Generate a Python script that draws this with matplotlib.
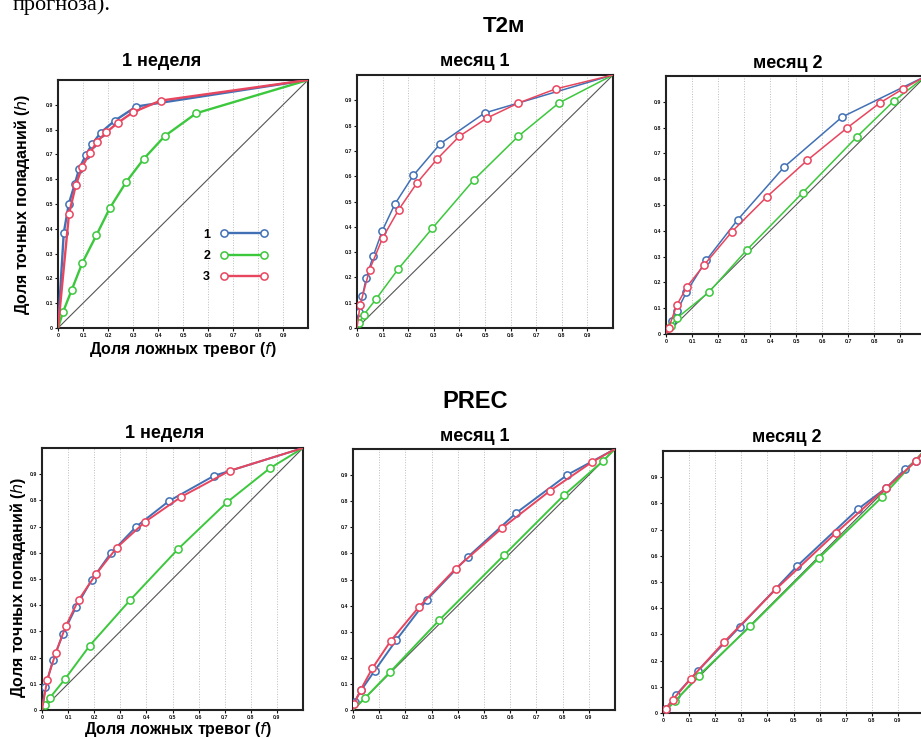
import matplotlib
matplotlib.use("Agg")
import matplotlib.pyplot as plt

plt.rcParams['font.family'] = ['Liberation Sans', 'DejaVu Sans']

# ---------------- data (f = false alarm rate, h = hit rate) ----------------
# T2m, 1 week
t2_w1_f1 = [0, 0.023, 0.043, 0.067, 0.084, 0.111, 0.137, 0.171, 0.227, 0.313, 1]
t2_w1_h1 = [0, 0.383, 0.500, 0.580, 0.640, 0.697, 0.742, 0.788, 0.836, 0.893, 1]
t2_w1_f2 = [0, 0.020, 0.055, 0.097, 0.153, 0.207, 0.273, 0.343, 0.427, 0.553, 1]
t2_w1_h2 = [0, 0.064, 0.154, 0.262, 0.373, 0.483, 0.589, 0.682, 0.774, 0.866, 1]
t2_w1_f3 = [0, 0.044, 0.071, 0.097, 0.127, 0.157, 0.193, 0.240, 0.300, 0.411, 1]
t2_w1_h3 = [0, 0.460, 0.575, 0.651, 0.705, 0.752, 0.789, 0.828, 0.870, 0.917, 1]

# T2m, month 1
t2_m1_f1 = [0, 0.008, 0.021, 0.036, 0.063, 0.099, 0.148, 0.220, 0.326, 0.499, 1]
t2_m1_h1 = [0, 0.063, 0.125, 0.198, 0.283, 0.385, 0.490, 0.603, 0.729, 0.850, 1]
t2_m1_f2 = [0, 0.008, 0.027, 0.075, 0.161, 0.294, 0.457, 0.630, 0.788, 1]
t2_m1_h2 = [0, 0.020, 0.053, 0.115, 0.233, 0.394, 0.586, 0.758, 0.889, 1]
t2_m1_f3 = [0, 0.012, 0.049, 0.100, 0.163, 0.234, 0.313, 0.400, 0.508, 0.630, 0.776, 1]
t2_m1_h3 = [0, 0.090, 0.230, 0.356, 0.468, 0.573, 0.668, 0.758, 0.830, 0.889, 0.945, 1]

# T2m, month 2
t2_m2_f1 = [0, 0.023, 0.042, 0.078, 0.154, 0.275, 0.455, 0.677, 1]
t2_m2_h1 = [0, 0.049, 0.088, 0.161, 0.285, 0.442, 0.648, 0.841, 1]
t2_m2_f2 = [0, 0.019, 0.042, 0.164, 0.311, 0.526, 0.734, 0.875, 1]
t2_m2_h2 = [0, 0.032, 0.062, 0.161, 0.326, 0.548, 0.764, 0.902, 1]
t2_m2_f3 = [0, 0.010, 0.042, 0.081, 0.147, 0.254, 0.388, 0.544, 0.698, 0.823, 0.913, 1]
t2_m2_h3 = [0, 0.023, 0.113, 0.184, 0.268, 0.397, 0.532, 0.674, 0.800, 0.896, 0.951, 1]

# PREC, 1 week
pr_w1_f1 = [0, 0.013, 0.042, 0.080, 0.130, 0.190, 0.263, 0.361, 0.487, 0.659, 1]
pr_w1_h1 = [0, 0.089, 0.190, 0.290, 0.392, 0.496, 0.598, 0.700, 0.798, 0.894, 1]
pr_w1_f2 = [0, 0.010, 0.029, 0.088, 0.183, 0.338, 0.521, 0.709, 0.872, 1]
pr_w1_h2 = [0, 0.019, 0.045, 0.118, 0.246, 0.420, 0.614, 0.793, 0.922, 1]
pr_w1_f3 = [0, 0.020, 0.052, 0.091, 0.140, 0.208, 0.287, 0.396, 0.534, 0.719, 1]
pr_w1_h3 = [0, 0.115, 0.216, 0.320, 0.420, 0.520, 0.620, 0.719, 0.814, 0.913, 1]

# PREC, month 1
pr_m1_f1 = [0, 0.006, 0.032, 0.083, 0.166, 0.283, 0.439, 0.624, 0.818, 1]
pr_m1_h1 = [0, 0.032, 0.077, 0.151, 0.269, 0.423, 0.587, 0.756, 0.901, 1]
pr_m1_f2 = [0, 0.045, 0.143, 0.329, 0.577, 0.806, 0.953, 1]
pr_m1_h2 = [0, 0.045, 0.147, 0.344, 0.594, 0.824, 0.953, 1]
pr_m1_f3 = [0, 0.004, 0.029, 0.074, 0.144, 0.251, 0.392, 0.568, 0.752, 0.911, 1]
pr_m1_h3 = [0, 0.023, 0.077, 0.160, 0.265, 0.394, 0.542, 0.696, 0.840, 0.949, 1]

# PREC, month 2
pr_m2_f1 = [0, 0.010, 0.051, 0.134, 0.295, 0.513, 0.748, 0.855, 0.929, 0.969, 1]
pr_m2_h1 = [0, 0.015, 0.070, 0.161, 0.330, 0.560, 0.779, 0.859, 0.932, 0.961, 1]
pr_m2_f2 = [0, 0.045, 0.137, 0.335, 0.598, 0.840, 1]
pr_m2_h2 = [0, 0.044, 0.143, 0.332, 0.592, 0.825, 1]
pr_m2_f3 = [0, 0.010, 0.038, 0.106, 0.235, 0.433, 0.662, 0.855, 0.969, 1]
pr_m2_h3 = [0, 0.015, 0.051, 0.131, 0.272, 0.473, 0.687, 0.859, 0.961, 1]

labels = ["1", "2", "3"]
tick_vals = [0, 0.1, 0.2, 0.3, 0.4, 0.5, 0.6, 0.7, 0.8, 0.9]
tick_labels = ["0", "0.1", "0.2", "0.3", "0.4", "0.5", "0.6", "0.7", "0.8", "0.9"]

BLUE = "#4170b5"
GREEN = "#3cc83c"
RED = "#e8455e"
COLORS = [BLUE, GREEN, RED]

W, H = 921, 739
fig = plt.figure(figsize=(W / 100, H / 100), dpi=100)


def px(x, y):
    return x / W, 1 - y / H


def make_ax(left, top, right, bottom):
    l, t = px(left, top)
    r, b = px(right, bottom)
    return fig.add_axes([l, b, r - l, t - b])


def draw_panel(ax, series, lw):
    ax.plot([0, 1], [0, 1], color="#555555", lw=0.8, zorder=2)
    handles = [None, None, None]
    for i in [1, 0, 2]:  # green first, then blue, red on top
        f, h = series[i]
        c = COLORS[i]
        ln, = ax.plot(f, h, color=c, lw=lw, marker="o", ms=5.2, mfc="white",
                      mec=c, mew=1.1, markevery=list(range(1, len(f) - 1)),
                      zorder=3 + i, label=labels[i])
        handles[i] = ln
    ax.set_xlim(0, 1)
    ax.set_ylim(0, 1)
    ax.set_xticks(tick_vals)
    ax.set_yticks(tick_vals)
    ax.set_xticklabels(tick_labels, fontsize=3.8, fontweight="bold")
    ax.set_yticklabels(tick_labels, fontsize=3.8, fontweight="bold")
    ax.tick_params(length=2, width=0.8, pad=1.5, colors="#111111")
    ax.grid(axis="x", color="#bdbdbd", linestyle=":", lw=0.7)
    for s in ax.spines.values():
        s.set_linewidth(1.5)
        s.set_color("#222222")
    return handles


ax1 = make_ax(58, 80, 308, 328)
ax2 = make_ax(357, 75, 613, 328)
ax3 = make_ax(666, 76, 926, 334)
ax4 = make_ax(42, 448, 303, 710)
ax5 = make_ax(353, 449, 615, 710)
ax6 = make_ax(663, 451, 924, 713)

h1 = draw_panel(ax1, [(t2_w1_f1, t2_w1_h1), (t2_w1_f2, t2_w1_h2), (t2_w1_f3, t2_w1_h3)], 1.7)
draw_panel(ax2, [(t2_m1_f1, t2_m1_h1), (t2_m1_f2, t2_m1_h2), (t2_m1_f3, t2_m1_h3)], 1.1)
draw_panel(ax3, [(t2_m2_f1, t2_m2_h1), (t2_m2_f2, t2_m2_h2), (t2_m2_f3, t2_m2_h3)], 1.1)
draw_panel(ax4, [(pr_w1_f1, pr_w1_h1), (pr_w1_f2, pr_w1_h2), (pr_w1_f3, pr_w1_h3)], 1.4)
draw_panel(ax5, [(pr_m1_f1, pr_m1_h1), (pr_m1_f2, pr_m1_h2), (pr_m1_f3, pr_m1_h3)], 1.4)
draw_panel(ax6, [(pr_m2_f1, pr_m2_h1), (pr_m2_f2, pr_m2_h2), (pr_m2_f3, pr_m2_h3)], 1.4)

ax1.legend(handles=h1, labels=labels, loc="center", bbox_to_anchor=(0.71, 0.29),
           frameon=False, markerfirst=False, numpoints=2, handlelength=3.8,
           handletextpad=0.8, labelspacing=0.75,
           prop={"size": 9, "weight": "bold"})

# axis labels (only on the left-hand panels)
for ax, xl, yl in [(ax1, (0.5, -0.085), (-0.145, 0.5)), (ax4, (0.52, -0.076), (-0.092, 0.47))]:
    ax.set_xlabel("Доля ложных тревог ($\\mathit{f}$)", fontsize=11.5, fontweight="bold")
    ax.set_ylabel("Доля точных попаданий ($\\mathit{h}$)", fontsize=11.5, fontweight="bold")
    ax.xaxis.set_label_coords(*xl)
    ax.yaxis.set_label_coords(*yl)
    ax.xaxis.label.set_va("center")
    ax.yaxis.label.set_va("center")

# panel titles
for txt, x, y in [("1 неделя", 162, 62), ("месяц 1", 475, 62), ("месяц 2", 788, 63),
                  ("1 неделя", 165, 434), ("месяц 1", 475, 436), ("месяц 2", 787, 437)]:
    fig.text(*px(x, y), txt, ha="center", va="center", fontsize=13, fontweight="bold")

fig.text(*px(504, 27), "T2м", ha="center", va="center", fontsize=16, fontweight="bold")
fig.text(*px(475, 402), "PREC", ha="center", va="center", fontsize=17, fontweight="bold")

# fragment of the page text above the figure (cut by the top edge, as in the scan)
fig.text(*px(13, 10), "прогноза).", ha="left", va="baseline", fontsize=16,
         family="Liberation Serif")

fig.savefig("out.png", dpi=100)
